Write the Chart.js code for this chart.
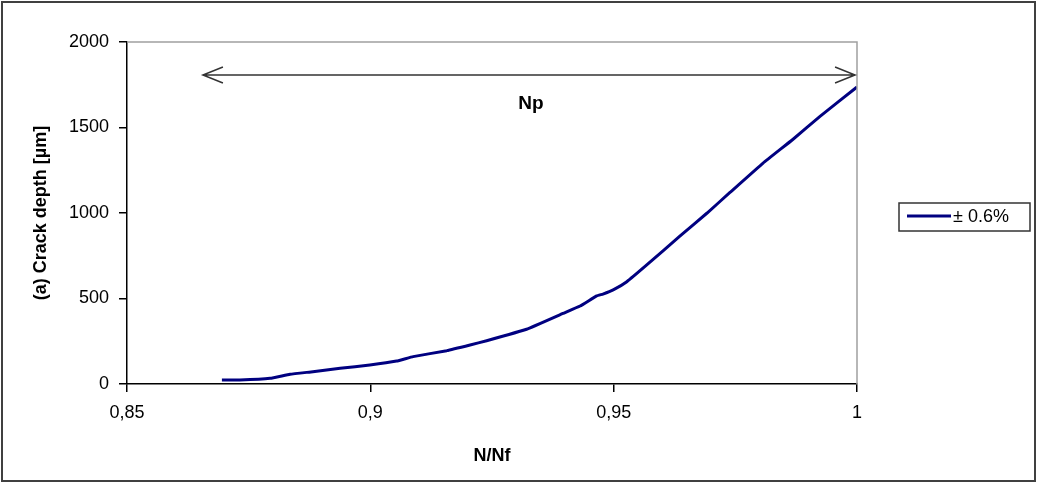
<!DOCTYPE html>
<html>
  <head>
    <title>Crack depth vs N/Nf</title>
    <style>
      body { margin: 0; background: #fff; }
      #wrap { width: 1050px; height: 484px; }
    </style>
    <script src="https://cdn.jsdelivr.net/npm/chart.js"></script>
  </head>
  <body>
    <div id="wrap"><canvas id="crack-chart" width="1050" height="484"></canvas></div>

    <script>
      // values
      const nRatio = [0.8695, 0.8732, 0.8794, 0.8835, 0.8882, 0.8938, 0.8999, 0.9054, 0.9088,
        0.9157, 0.9205, 0.9239, 0.9321, 0.9396, 0.9431, 0.9465, 0.9478, 0.9499, 0.9527,
        0.9568, 0.9636, 0.9692, 0.9739, 0.9807, 0.9868, 0.9924, 1.0];
      const crackDepth = [23, 23, 33, 57, 72, 92, 111, 134, 160, 195, 228, 253, 320, 413,
        456, 515, 526, 550, 598, 696, 865, 1000, 1120, 1292, 1430, 1565, 1737];
      const seriesLabel = "± 0.6%";
      const arrowX = [0.8656, 0.9996];
      const arrowY = 1807;
      const arrowText = "Np";
      const textPos = [0.933, 1640];

      const font = "'Liberation Sans', Arial, sans-serif";

      const extras = {
        id: "extras",
        afterDraw(chart) {
          const ctx = chart.ctx;
          const { left, right, top, bottom } = chart.chartArea;
          const xs = chart.scales.x, ys = chart.scales.y;
          ctx.save();

          // gray top and right edge of the plot
          ctx.strokeStyle = "#a0a0a0";
          ctx.lineWidth = 1.5;
          ctx.beginPath();
          ctx.moveTo(left, top);
          ctx.lineTo(right, top);
          ctx.lineTo(right, bottom);
          ctx.stroke();

          // outer frame
          ctx.strokeStyle = "#404040";
          ctx.lineWidth = 2;
          ctx.strokeRect(2, 2, 1033, 479);

          // double arrow
          const x1 = xs.getPixelForValue(arrowX[0]);
          const x2 = xs.getPixelForValue(arrowX[1]);
          const ay = ys.getPixelForValue(arrowY);
          ctx.strokeStyle = "#333";
          ctx.lineWidth = 1.5;
          ctx.beginPath();
          ctx.moveTo(x1, ay);
          ctx.lineTo(x2, ay);
          ctx.moveTo(x1 + 20, ay - 8);
          ctx.lineTo(x1, ay);
          ctx.lineTo(x1 + 20, ay + 8);
          ctx.moveTo(x2 - 20, ay - 8);
          ctx.lineTo(x2, ay);
          ctx.lineTo(x2 - 20, ay + 8);
          ctx.stroke();

          ctx.fillStyle = "#000";
          ctx.font = "bold 19px " + font;
          ctx.textAlign = "center";
          ctx.textBaseline = "middle";
          ctx.fillText(arrowText, xs.getPixelForValue(textPos[0]), ys.getPixelForValue(textPos[1]));

          // legend box
          ctx.strokeStyle = "#333";
          ctx.lineWidth = 1.5;
          ctx.strokeRect(899, 203, 131, 28);
          ctx.strokeStyle = chart.data.datasets[0].borderColor;
          ctx.lineWidth = 3;
          ctx.beginPath();
          ctx.moveTo(907, 216);
          ctx.lineTo(951, 216);
          ctx.stroke();
          ctx.fillStyle = "#000";
          ctx.font = "18px " + font;
          ctx.textAlign = "left";
          ctx.fillText(chart.data.datasets[0].label, 953, 217);

          ctx.restore();
        }
      };

      new Chart(document.getElementById("crack-chart"), {
        type: "line",
        data: {
          datasets: [
            {
              label: seriesLabel,
              data: nRatio.map((x, i) => ({ x, y: crackDepth[i] })),
              borderColor: "#000080",
              borderWidth: 3,
              pointRadius: 0,
              tension: 0.1,
              fill: false,
            },
          ],
        },
        options: {
          responsive: false,
          animation: false,
          layout: { padding: { top: 42, right: 193, left: 0, bottom: 0 } },
          plugins: { legend: { display: false }, tooltip: { enabled: false } },
          scales: {
            x: {
              type: "linear",
              min: 0.85,
              max: 1,
              afterFit: (s) => { s.height = 100; },
              ticks: {
                stepSize: 0.05,
                color: "#000",
                padding: 10,
                font: { family: font, size: 18 },
                callback: (v) => Number(v.toFixed(2)).toString().replace(".", ","),
              },
              grid: { drawOnChartArea: false, color: "#000", tickLength: 8, lineWidth: 1.5 },
              border: { color: "#000", width: 1.5 },
              title: {
                display: true,
                text: "N/Nf",
                color: "#000",
                font: { family: font, size: 18, weight: "bold" },
                padding: { top: 0, bottom: 17 },
              },
            },
            y: {
              min: 0,
              max: 2000,
              afterFit: (s) => { s.width = 127; },
              ticks: {
                stepSize: 500,
                color: "#000",
                padding: 10,
                font: { family: font, size: 18 },
                callback: (v) => String(v),
              },
              grid: { drawOnChartArea: false, color: "#000", tickLength: 8, lineWidth: 1.5 },
              border: { color: "#000", width: 1.5 },
              title: {
                display: true,
                text: "(a) Crack depth [µm]",
                color: "#000",
                font: { family: font, size: 18, weight: "bold" },
                padding: { top: 30, bottom: 0 },
              },
            },
          },
        },
        plugins: [extras],
      });
    </script>
  </body>
</html>
